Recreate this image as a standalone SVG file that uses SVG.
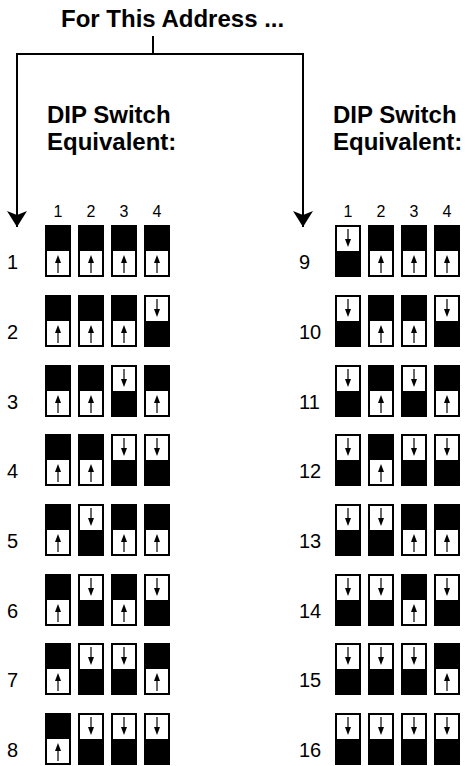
<svg xmlns="http://www.w3.org/2000/svg" xmlns:xlink="http://www.w3.org/1999/xlink" width="466" height="766" viewBox="0 0 466 766">
<style>
.bold{font-family:"Liberation Sans",Arial,sans-serif;font-weight:bold;font-size:24px;fill:#000}
.lbl{font-family:"Liberation Sans",Arial,sans-serif;font-size:20px;fill:#000}
.col{font-family:"Liberation Sans",Arial,sans-serif;font-size:16px;fill:#000;text-anchor:middle}
.conn{fill:none;stroke:#000;stroke-width:2}
.frame{fill:#fff;stroke:#000;stroke-width:2}
.blk{fill:#000}
.shaft{stroke:#000;stroke-width:1.2}
</style>
<defs>
<marker id="head" markerUnits="userSpaceOnUse" markerWidth="18" markerHeight="22" viewBox="-17 -11 18 22" refX="0" refY="0" orient="auto">
<path d="M0,0 L-16,-10 L-12,0 L-16,10 Z" fill="#000"/>
</marker>
<g id="up">
<rect class="frame" x="1" y="1" width="24" height="50"/>
<rect class="blk" x="0" y="0" width="26" height="26"/>
<line class="shaft" x1="13" y1="48" x2="13" y2="36"/>
<path d="M13,30 L10,38 L16,38 Z" fill="#000"/>
</g>
<g id="down">
<rect class="frame" x="1" y="1" width="24" height="50"/>
<rect class="blk" x="0" y="26" width="26" height="26"/>
<line class="shaft" x1="13" y1="4" x2="13" y2="16"/>
<path d="M13,22 L10,14 L16,14 Z" fill="#000"/>
</g>
</defs>

<g id="title"><text class="bold" x="61" y="27">For This Address ...</text></g>

<g id="connectors">
<line class="conn" x1="153" y1="36" x2="153" y2="54"/>
<path class="conn" d="M154,54 L17,54 L17,227" marker-end="url(#head)"/>
<path class="conn" d="M152,54 L303,54 L303,227" marker-end="url(#head)"/>
</g>

<g id="header-left">
<text class="bold" x="47" y="123">DIP Switch</text>
<text class="bold" x="47" y="150">Equivalent:</text>
<text class="col" x="58" y="217">1</text><text class="col" x="91" y="217">2</text><text class="col" x="124" y="217">3</text><text class="col" x="157" y="217">4</text>
</g>
<g id="header-right">
<text class="bold" x="333" y="123">DIP Switch</text>
<text class="bold" x="333" y="150">Equivalent:</text>
<text class="col" x="348" y="217">1</text><text class="col" x="381" y="217">2</text><text class="col" x="414" y="217">3</text><text class="col" x="447" y="217">4</text>
</g>

<g id="addr-1"><text class="lbl" x="7" y="269">1</text><use xlink:href="#up" x="45" y="225"/><use xlink:href="#up" x="78" y="225"/><use xlink:href="#up" x="111" y="225"/><use xlink:href="#up" x="144" y="225"/></g>
<g id="addr-2"><text class="lbl" x="7" y="339">2</text><use xlink:href="#up" x="45" y="295"/><use xlink:href="#up" x="78" y="295"/><use xlink:href="#up" x="111" y="295"/><use xlink:href="#down" x="144" y="295"/></g>
<g id="addr-3"><text class="lbl" x="7" y="409">3</text><use xlink:href="#up" x="45" y="365"/><use xlink:href="#up" x="78" y="365"/><use xlink:href="#down" x="111" y="365"/><use xlink:href="#up" x="144" y="365"/></g>
<g id="addr-4"><text class="lbl" x="7" y="478">4</text><use xlink:href="#up" x="45" y="434"/><use xlink:href="#up" x="78" y="434"/><use xlink:href="#down" x="111" y="434"/><use xlink:href="#down" x="144" y="434"/></g>
<g id="addr-5"><text class="lbl" x="7" y="548">5</text><use xlink:href="#up" x="45" y="504"/><use xlink:href="#down" x="78" y="504"/><use xlink:href="#up" x="111" y="504"/><use xlink:href="#up" x="144" y="504"/></g>
<g id="addr-6"><text class="lbl" x="7" y="618">6</text><use xlink:href="#up" x="45" y="574"/><use xlink:href="#down" x="78" y="574"/><use xlink:href="#up" x="111" y="574"/><use xlink:href="#down" x="144" y="574"/></g>
<g id="addr-7"><text class="lbl" x="7" y="687">7</text><use xlink:href="#up" x="45" y="643"/><use xlink:href="#down" x="78" y="643"/><use xlink:href="#down" x="111" y="643"/><use xlink:href="#up" x="144" y="643"/></g>
<g id="addr-8"><text class="lbl" x="7" y="757">8</text><use xlink:href="#up" x="45" y="713"/><use xlink:href="#down" x="78" y="713"/><use xlink:href="#down" x="111" y="713"/><use xlink:href="#down" x="144" y="713"/></g>

<g id="addr-9"><text class="lbl" x="299" y="269">9</text><use xlink:href="#down" x="335" y="225"/><use xlink:href="#up" x="368" y="225"/><use xlink:href="#up" x="401" y="225"/><use xlink:href="#up" x="434" y="225"/></g>
<g id="addr-10"><text class="lbl" x="299" y="339">10</text><use xlink:href="#down" x="335" y="295"/><use xlink:href="#up" x="368" y="295"/><use xlink:href="#up" x="401" y="295"/><use xlink:href="#down" x="434" y="295"/></g>
<g id="addr-11"><text class="lbl" x="299" y="409">11</text><use xlink:href="#down" x="335" y="365"/><use xlink:href="#up" x="368" y="365"/><use xlink:href="#down" x="401" y="365"/><use xlink:href="#up" x="434" y="365"/></g>
<g id="addr-12"><text class="lbl" x="299" y="478">12</text><use xlink:href="#down" x="335" y="434"/><use xlink:href="#up" x="368" y="434"/><use xlink:href="#down" x="401" y="434"/><use xlink:href="#down" x="434" y="434"/></g>
<g id="addr-13"><text class="lbl" x="299" y="548">13</text><use xlink:href="#down" x="335" y="504"/><use xlink:href="#down" x="368" y="504"/><use xlink:href="#up" x="401" y="504"/><use xlink:href="#up" x="434" y="504"/></g>
<g id="addr-14"><text class="lbl" x="299" y="618">14</text><use xlink:href="#down" x="335" y="574"/><use xlink:href="#down" x="368" y="574"/><use xlink:href="#up" x="401" y="574"/><use xlink:href="#down" x="434" y="574"/></g>
<g id="addr-15"><text class="lbl" x="299" y="687">15</text><use xlink:href="#down" x="335" y="643"/><use xlink:href="#down" x="368" y="643"/><use xlink:href="#down" x="401" y="643"/><use xlink:href="#up" x="434" y="643"/></g>
<g id="addr-16"><text class="lbl" x="299" y="757">16</text><use xlink:href="#down" x="335" y="713"/><use xlink:href="#down" x="368" y="713"/><use xlink:href="#down" x="401" y="713"/><use xlink:href="#down" x="434" y="713"/></g>
</svg>
